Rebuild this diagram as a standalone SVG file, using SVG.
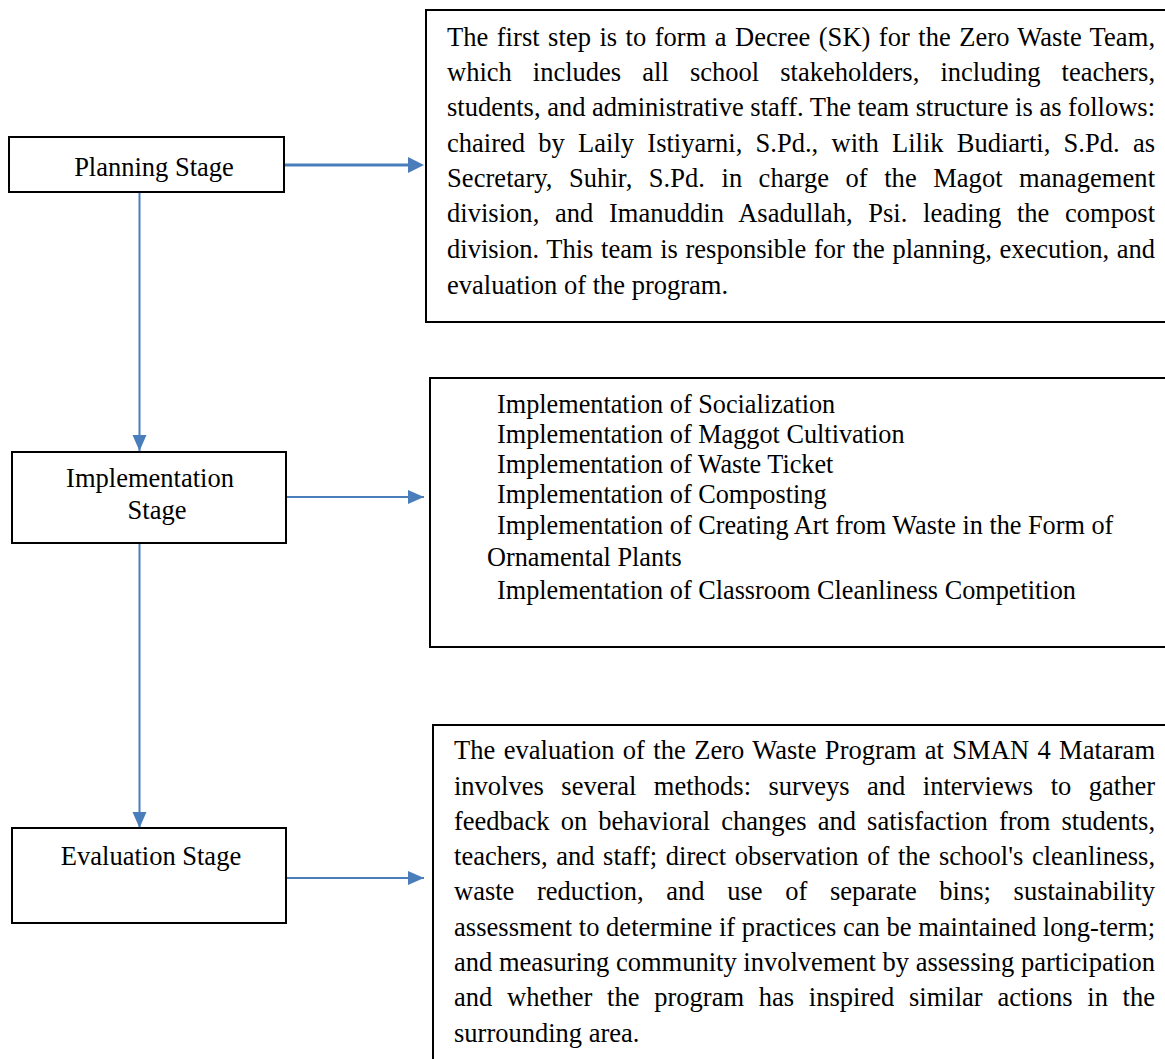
<svg xmlns="http://www.w3.org/2000/svg" width="1165" height="1059" viewBox="0 0 1165 1059">
<defs>
<marker id="ah" markerUnits="userSpaceOnUse" markerWidth="16" markerHeight="16" viewBox="0 0 16 16" refX="16" refY="8" orient="auto">
<path d="M0,1 L16,8 L0,15 Z" fill="#4a7ebb"/>
</marker>
<style>
.box{fill:#fff;stroke:#000;stroke-width:2}
.conn{fill:none;stroke:#4a7ebb;stroke-width:2}
.t{font-family:"Liberation Serif","Times New Roman",serif;font-size:26.5px;fill:#000}
.s{font-size:26.25px}
.c{text-anchor:middle}
</style>
</defs>
<rect width="1165" height="1059" fill="#fff"/>
<g id="connectors">
<line class="conn" x1="284" y1="165" x2="410" y2="165" style="stroke-width:3"/>
<path d="M408,157 L424,165 L408,173 Z" fill="#4a7ebb"/>
<line class="conn" x1="139.5" y1="192" x2="139.5" y2="451" marker-end="url(#ah)"/>
<line class="conn" x1="286" y1="497" x2="424" y2="497" marker-end="url(#ah)"/>
<line class="conn" x1="139.5" y1="543" x2="139.5" y2="828" marker-end="url(#ah)"/>
<line class="conn" x1="286" y1="878" x2="424" y2="878" marker-end="url(#ah)"/>
</g>
<g id="planning">
<rect class="box" x="9" y="137" width="275" height="55"/>
<text class="t c" x="154" y="176">Planning Stage</text>
</g>
<g id="implementation">
<rect class="box" x="12" y="452" width="274" height="91"/>
<text class="t c" x="150" y="487">Implementation</text>
<text class="t c" x="157" y="519">Stage</text>
</g>
<g id="evaluation">
<rect class="box" x="12" y="828" width="274" height="95"/>
<text class="t c" x="151" y="865">Evaluation Stage</text>
</g>
<g id="planning-detail">
<rect class="box" x="426" y="10" width="760" height="312"/>
<text class="t" x="447" y="46" word-spacing="1.6" textLength="708" lengthAdjust="spacing">The first step is to form a Decree (SK) for the Zero Waste Team,</text>
<text class="t" x="447" y="81" word-spacing="14.5" textLength="708" lengthAdjust="spacing">which includes all school stakeholders, including teachers,</text>
<text class="t" x="447" y="116" textLength="708" lengthAdjust="spacing">students, and administrative staff. The team structure is as follows:</text>
<text class="t" x="447" y="152" word-spacing="6.7" textLength="708" lengthAdjust="spacing">chaired by Laily Istiyarni, S.Pd., with Lilik Budiarti, S.Pd. as</text>
<text class="t" x="447" y="187" word-spacing="9.75" textLength="708" lengthAdjust="spacing">Secretary, Suhir, S.Pd. in charge of the Magot management</text>
<text class="t" x="447" y="222" word-spacing="9" textLength="708" lengthAdjust="spacing">division, and Imanuddin Asadullah, Psi. leading the compost</text>
<text class="t" x="447" y="258" word-spacing="1" textLength="708" lengthAdjust="spacing">division. This team is responsible for the planning, execution, and</text>
<text class="t" x="447" y="294">evaluation of the program.</text>
</g>
<g id="implementation-detail">
<rect class="box" x="430" y="378" width="760" height="269"/>
<text class="t s" x="497" y="413">Implementation of Socialization</text>
<text class="t s" x="497" y="443">Implementation of Maggot Cultivation</text>
<text class="t s" x="497" y="473">Implementation of Waste Ticket</text>
<text class="t s" x="497" y="503">Implementation of Composting</text>
<text class="t s" x="497" y="534">Implementation of Creating Art from Waste in the Form of</text>
<text class="t s" x="487" y="566">Ornamental Plants</text>
<text class="t s" x="497" y="599">Implementation of Classroom Cleanliness Competition</text>
</g>
<g id="evaluation-detail">
<rect class="box" x="433" y="725" width="760" height="360"/>
<text class="t" x="454" y="759" word-spacing="1.66" textLength="701" lengthAdjust="spacing">The evaluation of the Zero Waste Program at SMAN 4 Mataram</text>
<text class="t" x="454" y="795" word-spacing="10.9" textLength="701" lengthAdjust="spacing">involves several methods: surveys and interviews to gather</text>
<text class="t" x="454" y="830" word-spacing="4.5" textLength="701" lengthAdjust="spacing">feedback on behavioral changes and satisfaction from students,</text>
<text class="t" x="454" y="865" word-spacing="2" textLength="701" lengthAdjust="spacing">teachers, and staff; direct observation of the school's cleanliness,</text>
<text class="t" x="454" y="900" word-spacing="16" textLength="701" lengthAdjust="spacing">waste reduction, and use of separate bins; sustainability</text>
<text class="t" x="454" y="936" textLength="701" lengthAdjust="spacing">assessment to determine if practices can be maintained long-term;</text>
<text class="t" x="454" y="971" textLength="701" lengthAdjust="spacing">and measuring community involvement by assessing participation</text>
<text class="t" x="454" y="1006" word-spacing="8.1" textLength="701" lengthAdjust="spacing">and whether the program has inspired similar actions in the</text>
<text class="t" x="454" y="1042">surrounding area.</text>
</g>
</svg>
